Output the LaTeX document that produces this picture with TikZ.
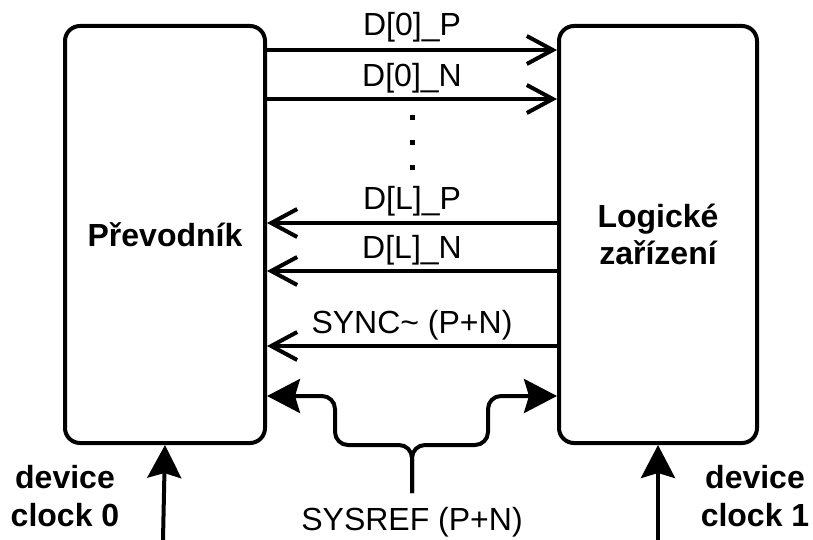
\documentclass[tikz,border=0pt]{standalone}
\usepackage{fontspec}
\setmainfont{Liberation Sans}
\usetikzlibrary{arrows.meta}
\begin{document}
\begin{tikzpicture}[x=1pt,y=-1pt,
  box/.style={draw, line width=4pt, rounded corners=15pt, minimum width=200pt, minimum height=417pt, align=center, font=\fontsize{32}{37}\selectfont\bfseries},
  sig/.style={line width=4pt, -{Straight Barb[length=26pt,width=28pt,line width=4pt]}},
  fat/.style={line width=4pt, -{Stealth[length=33pt,width=34pt,inset=5pt]}},
  lbl/.style={font=\fontsize{32}{36}\selectfont, anchor=base, inner sep=0pt},
  blbl/.style={font=\fontsize{32}{38}\selectfont\bfseries, align=center, inner sep=0pt}]
\useasboundingbox (0,0) rectangle (813,540);
\node[box] (L) at (165,234.5) {Převodník};
\node[box, minimum width=198pt] (R) at (658,234.5) {Logické\\zařízení};
% y levels
\coordinate (y1) at (0,50);
\coordinate (y2) at (0,99);
\coordinate (y3) at (0,223);
\coordinate (y4) at (0,271);
\coordinate (y5) at (0,346);
\coordinate (y6) at (0,396);
\draw[sig] (L.east |- y1) -- node[lbl, yshift=14pt] {D[0]\_P} (R.west |- y1);
\draw[sig] (L.east |- y2) -- node[lbl, yshift=12pt] {D[0]\_N} (R.west |- y2);
\draw[sig] (R.west |- y3) -- node[lbl, yshift=14pt] {D[L]\_P} (L.east |- y3);
\draw[sig] (R.west |- y4) -- node[lbl, yshift=13pt] {D[L]\_N} (L.east |- y4);
\draw[sig] (R.west |- y5) -- node[lbl, yshift=13pt] {SYNC\textasciitilde{} (P+N)} (L.east |- y5);
% dots
\foreach \yy/\n in {118/d1,143/d2,168/d3}
  \node[fill, inner sep=0pt, minimum size=5pt] (\n) at (412,\yy) {};
% SYSREF
\coordinate (s) at (412,493);
\coordinate (bl) at (335,445);
\coordinate (br) at (488,445);
\draw[fat, rounded corners=13pt] (s) -- (s |- bl) -- (bl) -- (bl |- y6) -- (L.east |- y6);
\draw[fat, rounded corners=13pt] (s) -- (s |- br) -- (br) -- (br |- y6) -- (R.west |- y6);
\node[lbl] (sysref) at (412,530) {SYSREF (P+N)};
% clocks
\coordinate (c0) at (163,540);
\coordinate (c1) at (658,540);
\draw[fat] (c0) -- (L.south);
\draw[fat] (c1) -- (R.south);
\node[blbl] (t0) at (65,496) {device\\clock 0};
\node[blbl] (t1) at (755,496) {device\\clock 1};
\end{tikzpicture}
\end{document}
